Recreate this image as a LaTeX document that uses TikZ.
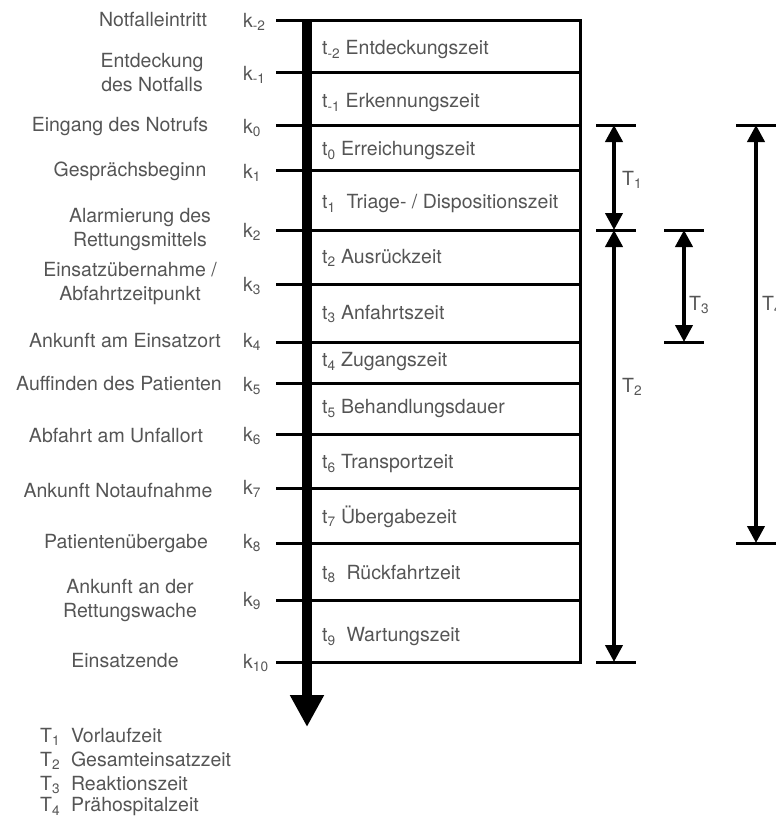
\documentclass[tikz,border=0pt]{standalone}
\usepackage{fontspec}
\setmainfont{TeX Gyre Heros}
\usetikzlibrary{arrows.meta}

\definecolor{labgray}{HTML}{555555}
\newcommand{\ix}[1]{\textsubscript{#1}}

\begin{document}
\begin{tikzpicture}[x=1pt, y=-1pt, >=Stealth,
  level/.style={line width=3pt, line cap=rect},
  timeaxis/.style={line width=10pt, -{Triangle[width=32pt,length=32pt]}},
  span/.style={line width=4pt,
    {Triangle[width=17pt,length=17pt]}-{Triangle[width=17pt,length=17pt]}},
  spanend/.style={line width=3pt},
  lab/.style={text=labgray, inner sep=0pt,
    font=\fontsize{19.5}{24}\selectfont},
  evlab/.style={lab, align=center},
  klab/.style={lab, anchor=west},
  tlab/.style={lab, anchor=west},
  Tlab/.style={lab, anchor=west}]

\useasboundingbox (0,0) rectangle (776,819);

% ----------------------------
% PARAMETERS
% ----------------------------
\def\xTick{277}   % left end of the level lines
\def\xAx{307}     % time axis
\def\xBox{580}    % right edge of the box
\def\xK{243}      % k labels
\def\xT{322}      % t labels

% ----------------------------
% LEVELS (left end of each line)
% ----------------------------
\coordinate (Lm2) at (\xTick,20);
\coordinate (Lm1) at (\xTick,72);
\coordinate (L0)  at (\xTick,125);
\coordinate (L1)  at (\xTick,170);
\coordinate (L2)  at (\xTick,230);
\coordinate (L3)  at (\xTick,284);
\coordinate (L4)  at (\xTick,342);
\coordinate (L5)  at (\xTick,383);
\coordinate (L6)  at (\xTick,434);
\coordinate (L7)  at (\xTick,488);
\coordinate (L8)  at (\xTick,543);
\coordinate (L9)  at (\xTick,600);
\coordinate (L10) at (\xTick,662);

\coordinate (BoxR) at (\xBox,20);
\coordinate (AxTop) at (\xAx,20);
\coordinate (AxEnd) at (\xAx,727);

% ----------------------------
% BOX AND LEVEL LINES
% ----------------------------
\draw[level] (Lm2) -- (Lm2 -| BoxR);
\draw[level] (Lm1) -- (Lm1 -| BoxR);
\draw[level] (L0)  -- (L0 -| BoxR);
\draw[level] (L1)  -- (L1 -| BoxR);
\draw[level] (L2)  -- (L2 -| BoxR);
\draw[level] (L3)  -- (L3 -| BoxR);
\draw[level] (L4)  -- (L4 -| BoxR);
\draw[level] (L5)  -- (L5 -| BoxR);
\draw[level] (L6)  -- (L6 -| BoxR);
\draw[level] (L7)  -- (L7 -| BoxR);
\draw[level] (L8)  -- (L8 -| BoxR);
\draw[level] (L9)  -- (L9 -| BoxR);
\draw[level] (L10) -- (L10 -| BoxR);

\draw[level] (BoxR) -- (L10 -| BoxR);

% time axis
\draw[timeaxis] (AxTop) -- (AxEnd);

% ----------------------------
% EVENT LABELS (left)
% ----------------------------
\node[evlab] (e-2) at (153,20)  {Notfalleintritt};
\node[evlab] (e-1) at (152,73)  {Entdeckung\\des Notfalls};
\node[evlab] (e0)  at (120,126) {Eingang des Notrufs};
\node[evlab] (e1)  at (130,171) {Gesprächsbeginn};
\node[evlab] (e2)  at (140,230) {Alarmierung des\\Rettungsmittels};
\node[evlab] (e3)  at (130,284) {Einsatzübernahme /\\Abfahrtzeitpunkt};
\node[evlab] (e4)  at (125,341) {Ankunft am Einsatzort};
\node[evlab] (e5)  at (119,384) {Auffinden des Patienten};
\node[evlab] (e6)  at (116,436) {Abfahrt am Unfallort};
\node[evlab] (e7)  at (118,491) {Ankunft Notaufnahme};
\node[evlab] (e8)  at (126,544) {Patientenübergabe};
\node[evlab] (e9)  at (130,600) {Ankunft an der\\Rettungswache};
\node[evlab] (e10) at (125,661) {Einsatzende};

% ----------------------------
% k LABELS
% ----------------------------
\node[klab] (k-2) at (\xK,22)  {k\ix{-2}};
\node[klab] (k-1) at (\xK,75)  {k\ix{-1}};
\node[klab] (k0)  at (\xK,128) {k\ix{0}};
\node[klab] (k1)  at (\xK,173) {k\ix{1}};
\node[klab] (k2)  at (\xK,232) {k\ix{2}};
\node[klab] (k3)  at (\xK,286) {k\ix{3}};
\node[klab] (k4)  at (\xK,342) {k\ix{4}};
\node[klab] (k5)  at (\xK,386) {k\ix{5}};
\node[klab] (k6)  at (\xK,436) {k\ix{6}};
\node[klab] (k7)  at (\xK,489) {k\ix{7}};
\node[klab] (k8)  at (\xK,543) {k\ix{8}};
\node[klab] (k9)  at (\xK,601) {k\ix{9}};
\node[klab] (k10) at (\xK,663) {k\ix{10}};

% ----------------------------
% t LABELS (inside the box)
% ----------------------------
\node[tlab] (t-2) at (\xT,50)  {t\ix{-2} Entdeckungszeit};
\node[tlab] (t-1) at (\xT,103) {t\ix{-1} Erkennungszeit};
\node[tlab] (t0)  at (\xT,151) {t\ix{0} Erreichungszeit};
\node[tlab] (t1)  at (\xT,204) {t\ix{1}\ \ Triage- / Dispositionszeit};
\node[tlab] (t2)  at (\xT,258) {t\ix{2} Ausrückzeit};
\node[tlab] (t3)  at (\xT,314) {t\ix{3} Anfahrtszeit};
\node[tlab] (t4)  at (\xT,362) {t\ix{4} Zugangszeit};
\node[tlab] (t5)  at (\xT,409) {t\ix{5} Behandlungsdauer};
\node[tlab] (t6)  at (\xT,464) {t\ix{6} Transportzeit};
\node[tlab] (t7)  at (\xT,517) {t\ix{7} Übergabezeit};
\node[tlab] (t8)  at (\xT,574) {t\ix{8}\ \ Rückfahrtzeit};
\node[tlab] (t9)  at (\xT,637) {t\ix{9}\ \ Wartungszeit};

% ----------------------------
% SPANS T1..T4 (right)
% ----------------------------
\coordinate (S1top) at (614,125);
\coordinate (S1bot) at (614,230);
\coordinate (S2bot) at (614,662);
\coordinate (S3top) at (684,230);
\coordinate (S3bot) at (684,342);
\coordinate (S4top) at (756,125);
\coordinate (S4bot) at (756,543);

\draw[spanend] (596,125) -- (636,125);
\draw[spanend] (596,230) -- (636,230);
\draw[spanend] (596,662) -- (636,662);
\draw[spanend] (664,230) -- (704,230);
\draw[spanend] (664,342) -- (704,342);
\draw[spanend] (736,125) -- (776,125);
\draw[spanend] (736,543) -- (776,543);

\draw[span] (S1top) -- (S1bot);
\draw[span] (S1bot) -- (S2bot);
\draw[span] (S3top) -- (S3bot);
\draw[span] (S4top) -- (S4bot);

\node[Tlab] (T1) at (622,180) {T\ix{1}};
\node[Tlab] (T2) at (622,387) {T\ix{2}};
\node[Tlab] (T3) at (689,305) {T\ix{3}};
\node[Tlab] (T4) at (762,305) {T\ix{4}};

% ----------------------------
% LEGEND
% ----------------------------
\node[Tlab] (L-T1) at (40,737) {T\ix{1}\ \ Vorlaufzeit};
\node[Tlab] (L-T2) at (40,761) {T\ix{2}\ \ Gesamteinsatzzeit};
\node[Tlab] (L-T3) at (40,785) {T\ix{3}\ \ Reaktionszeit};
\node[Tlab] (L-T4) at (40,807) {T\ix{4}\ \ Prähospitalzeit};

\end{tikzpicture}
\end{document}
